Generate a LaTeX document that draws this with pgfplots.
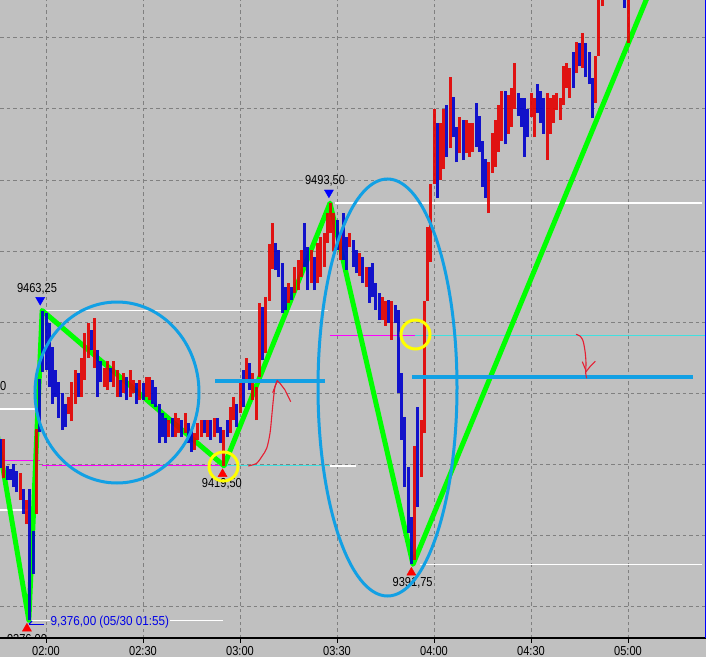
\documentclass[border=0pt]{standalone}
\usepackage{fontspec}
\setmainfont{Liberation Sans}
\usepackage{graphicx}
\usepackage{pgfplots}
\usepackage{pgfplotstable}
\pgfplotsset{compat=1.18}

\definecolor{bg}{RGB}{192,192,192}
\definecolor{gridgray}{RGB}{128,128,128}
\definecolor{upred}{RGB}{228,0,0}
\definecolor{downblue}{RGB}{0,0,204}
\definecolor{zz}{RGB}{0,255,0}
\definecolor{sky}{RGB}{18,160,228}
\definecolor{yel}{RGB}{255,255,0}
\definecolor{mag}{RGB}{255,0,255}
\definecolor{cyn}{RGB}{64,224,224}
\definecolor{pen}{RGB}{230,30,50}
\definecolor{txtblue}{RGB}{0,0,230}

\newcommand\lab[1]{\scalebox{0.85}[1]{\fontsize{13}{13}\selectfont #1}}

% 1-minute bars, x = minutes after 02:00
\pgfplotstableread{
t lo hi
-13 9416 9427
-8 9410 9417.5
-6 9403 9410
-3 9406 9430
7 9434 9439
8 9432 9443
9 9437 9446.5
11 9439 9450
12 9443.7 9457
13 9450 9459.7
15 9447 9461
18 9441.7 9447
19 9440.8 9449
21 9441.7 9449
22 9439 9446.5
24 9440 9445.6
26 9439 9446.5
27 9440 9443.7
29 9438 9443.7
31 9439 9444.5
32 9438 9444.5
38 9427.6 9432.4
40 9427.6 9434.4
41 9428.7 9433
43 9428.7 9434.4
46 9424 9428.7
47 9426.8 9431.5
48 9427.6 9432.4
50 9427.6 9432.4
52 9427.6 9433
55 9419.5 9429.6
57 9428.7 9436
58 9432.4 9439
60 9434.4 9443.7
62 9442.8 9450
64 9438 9445.6
65 9432.4 9441.7
66 9444.5 9465.4
68 9451.3 9467
69 9466 9482
70 9475 9488
75 9465.4 9471
77 9468.2 9475.5
78 9469 9477.5
79 9472.7 9480.3
82 9471 9480.3
84 9471 9482.3
85 9472.7 9484
86 9475.5 9485
87 9482.3 9490.7
88 9485 9493.5
89 9480 9490.7
91 9477.5 9485
94 9481 9485
97 9473 9479.4
99 9469.9 9475.5
104 9460.6 9467
105 9459 9466
107 9455 9466
114 9393 9425
116 9416.3 9432.4
117 9428.7 9466
118 9466 9486.8
119 9477 9499
120 9499 9520
122 9500 9516
123 9503 9520
125 9509 9529
128 9507.6 9517.7
130 9507.6 9517
131 9506.5 9516
132 9508 9516
137 9490.7 9505
138 9502 9513.2
139 9503.7 9517
140 9508 9521
141 9511 9525
143 9513 9524
144 9515 9526
145 9520 9533
150 9517.7 9524.5
151 9512 9523
155 9505.6 9524.5
156 9513 9523
157 9516 9524
158 9519.7 9524.5
159 9517 9523
160 9521 9532
161 9526 9533
162 9523 9531.5
164 9530 9539
166 9531.5 9541.4
170 9521.7 9535
171 9535 9556
172 9549 9560
173 9552 9562
175 9558 9568
177 9553 9562
180 9538.6 9556
}\upbars

\pgfplotstableread{
t lo hi
-14 9419 9427
-12 9415.5 9419.5
-11 9415.5 9418.5
-10 9413.5 9420
-9 9412 9418
-7 9406 9413
-5 9376 9413
-4 9389 9401
-2 9429 9444
-1 9446 9463
0 9446.5 9462.5
1 9441.7 9459.7
2 9437 9453
3 9439 9446.5
4 9433 9443
5 9429.6 9440
6 9430.4 9437
10 9439 9445.6
14 9452 9457.7
16 9439 9452
17 9443 9449
20 9443 9447
23 9439 9443.7
25 9438 9444.5
28 9437 9442.8
30 9438 9442.8
33 9437 9443.7
34 9436 9441.7
35 9426 9437
36 9427.6 9434.4
37 9426 9433
39 9427.6 9433
42 9427.6 9432.4
44 9426 9431.5
45 9423.4 9429.6
49 9428.7 9432.4
51 9426.8 9432.4
53 9428.7 9433
54 9426 9430.4
56 9427.6 9432.4
59 9430.4 9437
61 9436 9446.5
63 9440.8 9448.5
67 9449.3 9464.2
71 9474.6 9482.3
72 9472.7 9480.3
73 9462.5 9476.6
74 9463.4 9470
76 9466.2 9470
80 9475.5 9488
81 9469 9481
83 9469 9478.3
90 9480.3 9488.7
92 9477.5 9490.7
93 9474.6 9484
95 9475.5 9483
96 9473.8 9480.3
98 9471 9478.3
100 9465.4 9475.5
101 9467 9476.6
102 9463.4 9471
103 9460.6 9468.2
106 9459.7 9466.2
108 9459.7 9464.8
109 9440 9463.4
110 9426.8 9445.6
111 9413.5 9433.2
112 9400.6 9419.2
113 9391.75 9405
115 9408 9436
121 9495 9516
124 9506.5 9521
126 9512 9523.4
127 9505 9515
129 9505.6 9517
133 9509.3 9521.7
134 9508 9518
135 9498 9511
136 9495 9506
142 9510 9525
146 9518 9524.5
147 9515 9523
148 9506.5 9523
149 9512 9520
152 9519 9527
153 9516 9525
154 9513 9523
163 9526 9536
165 9532 9538.6
167 9529 9538.6
168 9527 9536
169 9517.5 9528.7
174 9556 9566
176 9555 9566
178 9551 9560
179 9548.5 9558
}\downbars

\begin{document}
\begin{tikzpicture}
\fill[bg] (0,-19pt) rectangle (706pt,638pt);
\begin{axis}[
  at={(0,0)}, anchor=south west,
  scale only axis, width=706pt, height=638pt,
  xmin=-14.23, xmax=204.12, ymin=9371.0, ymax=9550.7,
  axis x line*=bottom, axis y line*=left,
  x axis line style={black, line width=1.3pt},
  y axis line style={draw=none},
  xtick={0,30,...,180},
  xticklabels={\lab{02:00},\lab{02:30},\lab{03:00},\lab{03:30},\lab{04:00},\lab{04:30},\lab{05:00}},
  ytick={9380,9400,...,9540},
  yticklabels={},
  ytick style={draw=none},
  xtick style={black, line width=1pt},
  tick align=outside, major tick length=4.5pt,
  xticklabel style={anchor=north, inner sep=0pt, yshift=-4pt},
  grid=major,
  major grid style={gridgray, line width=1pt, dash pattern=on 3.5pt off 3pt},
]
% level lines
\draw[white, line width=1.5pt] (axis cs:-0.93,9463.25) -- (axis cs:87.2,9463.25);
\draw[white, line width=1.5pt] (axis cs:89.4,9493.5) -- (axis cs:202.9,9493.5);
\draw[white, line width=1.5pt] (axis cs:115.7,9391.75) -- (axis cs:202.9,9391.75);
\draw[white, line width=1.5pt] (axis cs:-5.6,9376) -- (axis cs:54.7,9376);
\draw[white, line width=1.5pt] (axis cs:-15,9435.5) -- (axis cs:-3.1,9435.5);
\draw[white, line width=1.5pt] (axis cs:-15,9407) -- (axis cs:-5.6,9407);
\draw[white, line width=1.5pt] (axis cs:87.8,9419.5) -- (axis cs:95.9,9419.5);
\draw[mag, line width=1pt] (axis cs:-15,9421.1) -- (axis cs:-1.9,9421.1);
\draw[mag, line width=1pt] (axis cs:-1.2,9419.5) -- (axis cs:54.4,9419.5);
\draw[cyn, line width=1pt] (axis cs:54.4,9419.5) -- (axis cs:87.8,9419.5);
\draw[mag, line width=1pt] (axis cs:87.8,9456.3) -- (axis cs:114.1,9456.3);
\draw[cyn, line width=1pt] (axis cs:114.1,9456.3) -- (axis cs:204,9456.3);

% zigzag
\addplot[zz, line width=5pt, line join=round] coordinates {
  (-15,9427.8) (-5.3,9376) (-1.2,9463.25) (55.05,9419.5)
  (87.84,9493.5) (113.5,9391.75) (195,9571.4)};

% candles: a vertical bar from lo to hi
\addplot[upred, opacity=0.9, line width=3pt, -,
  quiver={u=0, v=\thisrow{hi}-\thisrow{lo}}]
  table[x=t, y=lo] {\upbars};
\addplot[downblue, opacity=0.9, line width=3pt, -,
  quiver={u=0, v=\thisrow{hi}-\thisrow{lo}}]
  table[x=t, y=lo] {\downbars};

% drawn levels
\draw[sky, line width=3.5pt] (axis cs:52.3,9443.4) -- (axis cs:86.3,9443.4);
\draw[sky, line width=3.5pt] (axis cs:113.2,9444.5) -- (axis cs:200.1,9444.5);

% pivots
\addplot[only marks, mark=triangle*, mark size=5.2pt, blue,
  mark options={yshift=10.5pt, rotate=180}] coordinates {(-1.8,9463.25) (87.5,9493.5)};
\addplot[only marks, mark=triangle*, mark size=5.2pt, red,
  mark options={yshift=-8.2pt}] coordinates {(54.6,9419.5) (113.0,9391.75) (-5.9,9376)};

\node[inner sep=0pt] at (axis cs:-2.78,9469.3) {\lab{9463,25}};
\node[inner sep=0pt] at (axis cs:86.3,9499.7) {\lab{9493,50}};
\node[inner sep=0pt] at (axis cs:54.4,9414.4) {\lab{9419,50}};
\node[inner sep=0pt] at (axis cs:113.4,9386.6) {\lab{9391,75}};
\node[inner sep=0pt, anchor=east] at (axis cs:-12.2,9441.7) {\lab{9440,00}};

\draw[txtblue, line width=1pt] (axis cs:-5.26,9374.9) -- (axis cs:-0.62,9374.9);
\draw[txtblue, line width=1pt] (axis cs:-5.26,9374.9) -- (axis cs:-4.3,9375.8);
\node[anchor=west, fill=bg, inner sep=0.5pt, text=txtblue] at (axis cs:1.24,9375.5)
  {\scalebox{0.9}[1]{\fontsize{13}{13}\selectfont 9,376,00 (05/30 01:55)}};
\end{axis}

% low label, cut by the plot frame
\begin{scope}
\clip (0,0) rectangle (706pt,638pt);
\node[inner sep=0pt] at (27pt,-2pt) {\lab{9376,00}};
\end{scope}

% hand-drawn marks
\draw[sky, line width=3pt] (117pt,245.5pt) ellipse [x radius=82pt, y radius=90.5pt];
\draw[sky, line width=3pt] (387.5pt,250.5pt) ellipse [x radius=69.5pt, y radius=208.5pt];
\draw[yel, line width=3pt] (223.5pt,171.5pt) circle [radius=14.5pt];
\draw[yel, line width=3pt] (415.5pt,303.5pt) circle [radius=14.5pt];

\draw[pen, line width=1.1pt] plot[smooth] coordinates {(248.3pt,172pt) (256.7pt,174.7pt)
  (261.7pt,181.3pt) (266.7pt,189.7pt) (270pt,204.7pt) (271.7pt,221.3pt) (273.3pt,238pt)
  (275pt,251.3pt) (277.3pt,257.3pt)};
\draw[pen, line width=1.1pt] (272.7pt,245.3pt) -- (277.3pt,257.3pt) -- (280pt,254.7pt)
  -- (285pt,248pt) -- (288.3pt,241.3pt) -- (290.7pt,236.3pt);
\draw[pen, line width=1.1pt] plot[smooth] coordinates {(576pt,303.7pt) (580pt,302pt)
  (582.7pt,298pt) (584pt,293pt) (585.3pt,284.7pt) (586pt,274.7pt) (585.7pt,264.7pt)
  (586.7pt,259.7pt)};
\draw[pen, line width=1.1pt] (582.3pt,276.3pt) -- (585.7pt,268pt);
\draw[pen, line width=1.1pt] (595.3pt,276.7pt) -- (590pt,271.3pt) -- (586pt,266.3pt);

\draw[blue, line width=1pt] (705.5pt,0) -- (705.5pt,638pt);

\pgfresetboundingbox
\path[use as bounding box] (0,-19pt) rectangle (706pt,638pt);
\end{tikzpicture}
\end{document}
